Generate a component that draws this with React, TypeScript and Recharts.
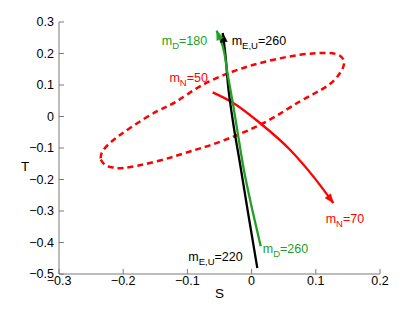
import { LineChart, Line, XAxis, YAxis, ReferenceDot } from 'recharts';

// curve samples (S, T)
const ellipseS = [-0.235, -0.2268, -0.2154, -0.1998, -0.1478, -0.096, -0.07, -0.0336, 0.0235, 0.0754, 0.117, 0.1377, 0.144, 0.1377, 0.117, 0.0754, 0.0235, -0.029, -0.0804, -0.1167, -0.1478, -0.1894, -0.2206, -0.2335, -0.235];
const ellipseT = [-0.137, -0.156, -0.162, -0.1635, -0.1425, -0.111, -0.095, -0.068, -0.0156, 0.048, 0.0956, 0.138, 0.17, 0.193, 0.2016, 0.196, 0.175, 0.143, 0.0956, 0.048, 0.016, -0.0365, -0.084, -0.116, -0.137];

const redS = [-0.0607, -0.0285, 0.013, 0.0598, 0.096, 0.1273];
const redT = [0.0765, 0.043, -0.0206, -0.1054, -0.19, -0.2746];

const blackS = [0.0089, -0.006, -0.018, -0.028, -0.036, -0.041, -0.045];
const blackT = [-0.481, -0.3, -0.15, -0.03, 0.085, 0.2, 0.265];

const greenS = [0.0142, 0.0015, -0.012, -0.021, -0.029, -0.037, -0.046, -0.0544];
const greenT = [-0.412, -0.3, -0.17, -0.06, 0.04, 0.13, 0.23, 0.272];

const xTicks = [-0.3, -0.2, -0.1, 0, 0.1, 0.2];
const yTicks = [-0.5, -0.4, -0.3, -0.2, -0.1, 0, 0.1, 0.2, 0.3];

// annotations: base, subscript, rest, S, T, colour
const notes = [
  { m: 'm', sub: 'D', rest: '=180', s: -0.14, t: 0.226, color: '#22a022' },
  { m: 'm', sub: 'E,U', rest: '=260', s: -0.031, t: 0.228, color: '#000' },
  { m: 'm', sub: 'N', rest: '=50', s: -0.128, t: 0.111, color: '#ff0000' },
  { m: 'm', sub: 'N', rest: '=70', s: 0.1154, t: -0.338, color: '#ff0000' },
  { m: 'm', sub: 'D', rest: '=260', s: 0.0173, t: -0.433, color: '#22a022' },
  { m: 'm', sub: 'E,U', rest: '=220', s: -0.0986, t: -0.46, color: '#000' },
];

const FONT = '"Liberation Sans", Arial, Helvetica, sans-serif';
const AXIS_GRAY = '#7a7a7a';

const zip = (s: number[], t: number[]) => s.map((x, i) => ({ x, y: t[i] }));

const ellipse = zip(ellipseS, ellipseT);
const red = zip(redS, redT);
const black = zip(blackS, blackT);
const green = zip(greenS, greenT);

const fmt = (v: number) => String(Math.round(v * 10) / 10).replace('-', '\u2212');

function arrowDot(color: string, n: number) {
  let px = 0;
  let py = 0;
  return (props: any) => {
    const { cx, cy, index } = props;
    const prevX = px;
    const prevY = py;
    px = cx;
    py = cy;
    if (index !== n - 1) return <g key={`d${index}`} />;
    const a = Math.atan2(cy - prevY, cx - prevX);
    const len = 9;
    const w = 3.5;
    const bx = cx - len * Math.cos(a);
    const by = cy - len * Math.sin(a);
    const p1 = `${bx + w * Math.sin(a)},${by - w * Math.cos(a)}`;
    const p2 = `${bx - w * Math.sin(a)},${by + w * Math.cos(a)}`;
    return <polygon key={`d${index}`} points={`${cx},${cy} ${p1} ${p2}`} fill={color} stroke={color} strokeWidth={0.5} />;
  };
}

function Note(props: any) {
  const { cx, cy, m, sub, rest, color } = props;
  return (
    <text x={cx} y={cy} fill={color} fontSize={12.5} fontFamily={FONT}>
      <tspan>{m}</tspan>
      <tspan fontSize={9.5} dy={4}>{sub}</tspan>
      <tspan dy={-4}>{rest}</tspan>
    </text>
  );
}

export default function App() {
  const tick = { fill: '#000', fontSize: 12.5, fontFamily: FONT };
  return (
    <div style={{ position: 'absolute', left: 0, top: 0, background: '#fff' }}>
      <LineChart width={415} height={309} margin={{ top: 22, right: 35, bottom: 5, left: 9 }}>
        <XAxis
          type="number"
          dataKey="x"
          domain={[-0.3, 0.2]}
          ticks={xTicks}
          allowDataOverflow
          tickFormatter={fmt}
          tick={tick}
          tickSize={-5}
          tickMargin={7}
          height={30}
          stroke={AXIS_GRAY}
          label={{ value: 'S', position: 'insideBottom', offset: 6, fill: '#000', fontSize: 13.5, fontFamily: FONT }}
        />
        <XAxis
          xAxisId="top"
          orientation="top"
          type="number"
          domain={[-0.3, 0.2]}
          ticks={xTicks}
          allowDataOverflow
          tick={false}
          tickSize={-5}
          height={0}
          stroke={AXIS_GRAY}
        />
        <YAxis
          type="number"
          dataKey="y"
          domain={[-0.5, 0.3]}
          ticks={yTicks}
          allowDataOverflow
          tickFormatter={fmt}
          tick={tick}
          tickSize={-5}
          tickMargin={10}
          width={50}
          stroke={AXIS_GRAY}
          label={{ value: 'T', position: 'insideLeft', offset: 12, dy: 18, fill: '#000', fontSize: 13.5, fontFamily: FONT }}
        />
        <YAxis
          yAxisId="right"
          orientation="right"
          type="number"
          domain={[-0.5, 0.3]}
          ticks={yTicks}
          allowDataOverflow
          tick={false}
          tickSize={-5}
          width={0}
          stroke={AXIS_GRAY}
        />
        <Line data={ellipse} dataKey="y" type="natural" stroke="#ff0000" strokeWidth={2.5} strokeDasharray="6 4" dot={false} isAnimationActive={false} />
        <Line data={red} dataKey="y" type="monotoneX" stroke="#ff0000" strokeWidth={2.3} dot={arrowDot('#ff0000', red.length)} isAnimationActive={false} />
        <Line data={black} dataKey="y" type="monotoneY" stroke="#000" strokeWidth={2.3} dot={arrowDot('#000', black.length)} isAnimationActive={false} />
        <Line data={green} dataKey="y" type="monotoneY" stroke="#22a022" strokeWidth={2.3} dot={arrowDot('#22a022', green.length)} isAnimationActive={false} />
        {notes.map((n, i) => (
          <ReferenceDot
            key={i}
            x={n.s}
            y={n.t}
            r={0}
            ifOverflow="visible"
            shape={(p: any) => <Note {...p} m={n.m} sub={n.sub} rest={n.rest} color={n.color} />}
          />
        ))}
      </LineChart>
    </div>
  );
}
